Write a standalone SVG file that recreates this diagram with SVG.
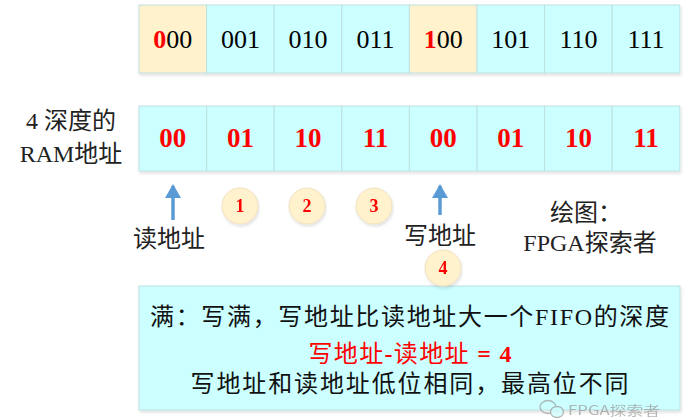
<svg xmlns="http://www.w3.org/2000/svg" width="700" height="420" viewBox="0 0 700 420">
<defs>
<style>
.cell{fill:#ccffff;stroke:#bfe0e0;stroke-width:1}
.cellw{fill:#fff2cc;stroke:#bfe0e0;stroke-width:1}
.num{font-family:"Liberation Serif","Noto Sans CJK SC",serif;font-size:26px;fill:#000;text-anchor:middle}
.rnum{font-family:"Liberation Serif","Noto Sans CJK SC",serif;font-size:27px;font-weight:bold;fill:#ff0000;text-anchor:middle}
.lbl{font-family:"Liberation Serif","Noto Sans CJK SC",serif;font-size:24px;fill:#222;text-anchor:middle}
.circ{fill:#fff2cc;stroke:#f0e0c0;stroke-width:1}
.cnum{font-family:"Liberation Serif",serif;font-size:18px;font-weight:bold;fill:#ff0000;text-anchor:middle}
.arrow{stroke:#5b9bd5;stroke-width:3.5;fill:none}
.box{fill:#ccffff;stroke:#bfe0e0;stroke-width:1}
.btxt{font-family:"Liberation Serif","Noto Sans CJK SC",serif;font-size:24px;fill:#111;text-anchor:middle}
.rb{fill:#ff0000;font-weight:bold}
</style>
<filter id="sh" x="-5%" y="-10%" width="110%" height="130%">
<feDropShadow dx="1" dy="2" stdDeviation="1.5" flood-color="#000" flood-opacity="0.12"/>
</filter>
<marker id="ah" markerWidth="14" markerHeight="16" refX="12" refY="8" orient="auto" markerUnits="userSpaceOnUse" viewBox="0 0 14 16">
<path d="M0,0 L14,8 L0,16 z" fill="#5b9bd5"/>
</marker>
</defs>
<rect width="700" height="420" fill="#ffffff"/>

<g id="top-row" filter="url(#sh)">
<rect class="cellw" x="139" y="5" width="67.6" height="68"/>
<rect class="cell" x="206.6" y="5" width="67.6" height="68"/>
<rect class="cell" x="274.2" y="5" width="67.6" height="68"/>
<rect class="cell" x="341.8" y="5" width="67.6" height="68"/>
<rect class="cellw" x="409.4" y="5" width="67.6" height="68"/>
<rect class="cell" x="477" y="5" width="67.6" height="68"/>
<rect class="cell" x="544.6" y="5" width="67.6" height="68"/>
<rect class="cell" x="612.2" y="5" width="67.6" height="68"/>
</g>
<g id="top-labels">
<text class="num" x="172.8" y="48"><tspan fill="#ff0000" font-weight="bold">0</tspan>00</text>
<text class="num" x="240.4" y="48">001</text>
<text class="num" x="308" y="48">010</text>
<text class="num" x="375.6" y="48">011</text>
<text class="num" x="443.2" y="48"><tspan fill="#ff0000" font-weight="bold">1</tspan>00</text>
<text class="num" x="510.8" y="48">101</text>
<text class="num" x="578.4" y="48">110</text>
<text class="num" x="646" y="48">111</text>
</g>

<g id="ram-label">
<text class="lbl" x="71" y="129">4 深度的</text>
<text class="lbl" x="71" y="162">RAM地址</text>
</g>

<g id="ram-row" filter="url(#sh)">
<rect class="cell" x="139" y="106" width="67.6" height="65"/>
<rect class="cell" x="206.6" y="106" width="67.6" height="65"/>
<rect class="cell" x="274.2" y="106" width="67.6" height="65"/>
<rect class="cell" x="341.8" y="106" width="67.6" height="65"/>
<rect class="cell" x="409.4" y="106" width="67.6" height="65"/>
<rect class="cell" x="477" y="106" width="67.6" height="65"/>
<rect class="cell" x="544.6" y="106" width="67.6" height="65"/>
<rect class="cell" x="612.2" y="106" width="67.6" height="65"/>
</g>
<g id="ram-labels">
<text class="rnum" x="172.8" y="147">00</text>
<text class="rnum" x="240.4" y="147">01</text>
<text class="rnum" x="308" y="147">10</text>
<text class="rnum" x="375.6" y="147">11</text>
<text class="rnum" x="443.2" y="147">00</text>
<text class="rnum" x="510.8" y="147">01</text>
<text class="rnum" x="578.4" y="147">10</text>
<text class="rnum" x="646" y="147">11</text>
</g>

<g id="connectors">
<line class="arrow" x1="173" y1="220" x2="173" y2="186" marker-end="url(#ah)"/>
<line class="arrow" x1="440" y1="215" x2="440" y2="186" marker-end="url(#ah)"/>
</g>

<g id="read-label"><text class="lbl" x="169" y="247">读地址</text></g>
<g id="write-label"><text class="lbl" x="440" y="244">写地址</text></g>
<g id="credit">
<text class="lbl" x="586" y="221">绘图：</text>
<text class="lbl" x="590" y="251">FPGA探索者</text>
</g>

<g id="step1" filter="url(#sh)"><circle class="circ" cx="240" cy="206" r="18"/><text class="cnum" x="240" y="212">1</text></g>
<g id="step2" filter="url(#sh)"><circle class="circ" cx="307" cy="206" r="18"/><text class="cnum" x="307" y="212">2</text></g>
<g id="step3" filter="url(#sh)"><circle class="circ" cx="374" cy="206" r="18"/><text class="cnum" x="374" y="212">3</text></g>

<g id="full-box">
<rect class="box" x="139" y="286" width="541" height="124" filter="url(#sh)"/>
<text class="btxt" x="409.5" y="325" textLength="519" lengthAdjust="spacing">满：写满，写地址比读地址大一个FIFO的深度</text>
<text class="btxt" x="410" y="362" textLength="203" lengthAdjust="spacing"><tspan fill="#ff0000">写地址</tspan><tspan class="rb">-</tspan><tspan fill="#ff0000">读地址</tspan><tspan class="rb"> = 4</tspan></text>
<text class="btxt" x="409.5" y="392" textLength="438" lengthAdjust="spacing">写地址和读地址低位相同，最高位不同</text>
</g>

<g id="step4" filter="url(#sh)"><circle class="circ" cx="443" cy="268" r="18"/><text class="cnum" x="443" y="274">4</text></g>

<g id="watermark" opacity="0.7">
<ellipse cx="548" cy="407" rx="8" ry="6.5" fill="none" stroke="#999" stroke-width="1.3"/>
<ellipse cx="557" cy="412" rx="6.5" ry="5.5" fill="#ccffff" stroke="#999" stroke-width="1.3"/>
<text x="568" y="415" font-family="'Noto Sans CJK SC','Liberation Sans',sans-serif" font-size="13" fill="#999" textLength="92" lengthAdjust="spacingAndGlyphs">FPGA探索者</text>
</g>
</svg>
